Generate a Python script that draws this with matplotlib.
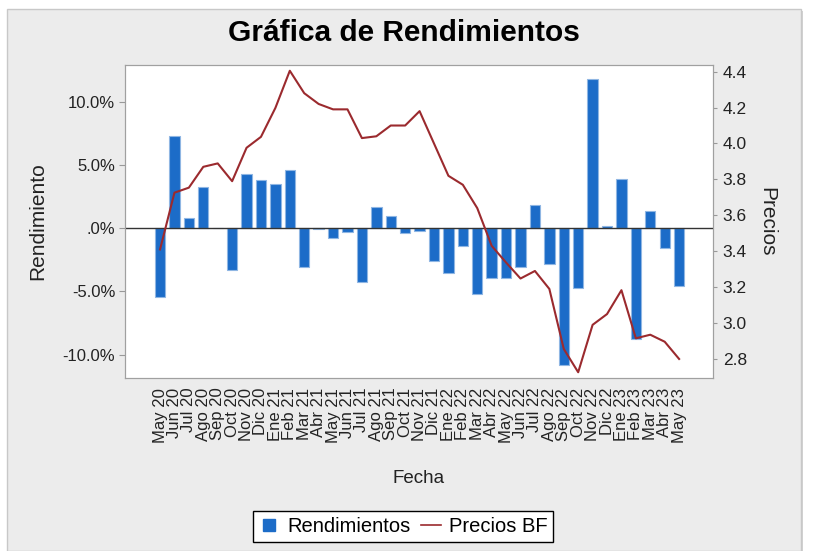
import numpy as np
import matplotlib
matplotlib.use('Agg')
import matplotlib.pyplot as plt
from matplotlib.patches import Rectangle
from matplotlib.lines import Line2D

# datos
meses = ['May 20', 'Jun 20', 'Jul 20', 'Ago 20', 'Sep 20', 'Oct 20', 'Nov 20', 'Dic 20',
         'Ene 21', 'Feb 21', 'Mar 21', 'Abr 21', 'May 21', 'Jun 21', 'Jul 21', 'Ago 21',
         'Sep 21', 'Oct 21', 'Nov 21', 'Dic 21', 'Ene 22', 'Feb 22', 'Mar 22', 'Abr 22',
         'May 22', 'Jun 22', 'Jul 22', 'Ago 22', 'Sep 22', 'Oct 22', 'Nov 22', 'Dic 22',
         'Ene 23', 'Feb 23', 'Mar 23', 'Abr 23', 'May 23']
rendimientos = [-5.45, 7.33, 0.79, 3.31, 0.0, -3.27, 4.29, 3.84, 3.52, 4.63,
                -3.1, -0.05, -0.79, -0.32, -4.23, 1.72, 0.98, -0.4, -0.2, -2.6,
                -3.5, -1.4, -5.2, -3.9, -3.97, -3.1, 1.85, -2.83, -10.8, -4.76,
                11.85, 0.19, 3.92, -8.73, 1.4, -1.59, -4.55]
precios = [3.41, 3.726, 3.754, 3.87, 3.889, 3.79, 3.976, 4.037, 4.198, 4.405,
           4.28, 4.22, 4.19, 4.19, 4.03, 4.04, 4.10, 4.10, 4.18, 4.0,
           3.82, 3.77, 3.64, 3.43, 3.337, 3.248, 3.29, 3.19, 2.856, 2.726,
           2.99, 3.05, 3.183, 2.915, 2.935, 2.896, 2.80]
ticks_rend = [10, 5, 0, -5, -10]
etiquetas_rend = ['10.0%', '5.0%', '.0%', '-5.0%', '-10.0%']
ticks_precio = [2.8, 3.0, 3.2, 3.4, 3.6, 3.8, 4.0, 4.2, 4.4]

plt.rcParams['font.family'] = ['Liberation Sans', 'DejaVu Sans']

W, H = 815, 551
fig = plt.figure(figsize=(W / 100, H / 100), dpi=100, facecolor='white')
# panel gris de fondo
fig.patches.append(Rectangle((801 / W, 0), 2 / W, 1 - 11 / H, transform=fig.transFigure,
                             facecolor='#d2d2d2', edgecolor='none', zorder=-2))
fig.patches.append(Rectangle((7 / W, 0), 794 / W, 1 - 9 / H, transform=fig.transFigure,
                             facecolor='#ececec', edgecolor='#c8c8c8', lw=1, zorder=-1))

ax = fig.add_axes([125 / W, 1 - 378 / H, 588 / W, 313 / H])
ax.set_facecolor('white')
x = np.arange(len(meses))
ax.bar(x, rendimientos, width=0.72, color='#1c6cc8', edgecolor='#8fb6e3', linewidth=0.8, zorder=2)
ax.axhline(0, color='#333333', lw=1, zorder=3)
ax.set_xlim(-2.43, 38.35)
ax.set_ylim(-11.85, 12.93)
ax.set_yticks(ticks_rend)
ax.set_yticklabels(etiquetas_rend)
ax.set_xticks(x)
ax.set_xticklabels(meses, rotation=90, va='top', ha='center')
ax.tick_params(axis='x', length=0, pad=7, labelsize=12, colors='#222222')
ax.tick_params(axis='y', length=4, pad=3, labelsize=12, color='#999999', labelcolor='#222222')
for s in ax.spines.values():
    s.set_color('#a0a0a0')

ax.set_xlabel('Fecha', fontsize=13.5, color='#222222')
ax.xaxis.set_label_coords(0.5, -0.32)
ax.xaxis.label.set_va('center')
ax.set_ylabel('Rendimiento', fontsize=15, color='#222222')
ax.yaxis.set_label_coords(-0.148, 0.5)
ax.yaxis.label.set_va('center')

ax2 = ax.twinx()
ax2.plot(x, precios, color='#9b2a2e', lw=1.5, zorder=4)
ax2.set_ylim(2.694, 4.437)
ax2.set_yticks(ticks_precio)
ax2.set_yticklabels(['%.1f' % t for t in ticks_precio])
ax2.tick_params(axis='y', length=3, pad=4, labelsize=12.5, color='#999999', labelcolor='#222222')
for s in ax2.spines.values():
    s.set_color('#a0a0a0')
ax2.set_ylabel('Precios', fontsize=15, rotation=270, color='#222222')
ax2.yaxis.set_label_coords(1.092, 0.5)
ax2.yaxis.label.set_va('center')

fig.text(404 / W, 1 - 33 / H, 'Gráfica de Rendimientos', fontsize=21.5, fontweight='bold',
         ha='center', va='center', color='black')

handles = [Line2D([], [], marker='s', linestyle='none', markersize=8.5, color='#1c6cc8'),
           Line2D([], [], color='#9b2a2e', lw=1.2)]
leg = fig.legend(handles, ['Rendimientos', 'Precios BF'], ncol=2, loc='upper left',
                 bbox_to_anchor=(253 / W, 1 - 511 / H), fontsize=14.5, frameon=True,
                 fancybox=False, framealpha=1, edgecolor='black', handlelength=1.0,
                 handletextpad=0.4, columnspacing=0.5, borderpad=0.3, borderaxespad=0)
leg.get_frame().set_linewidth(1)

fig.savefig('out.png', dpi=100, facecolor='white')
